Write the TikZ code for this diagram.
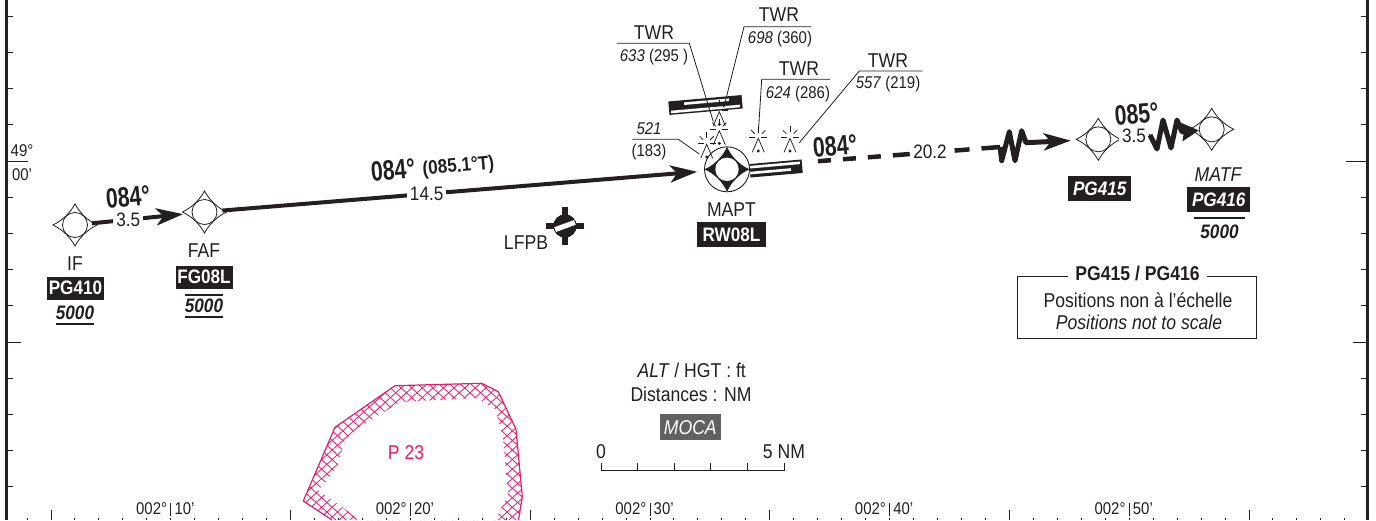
\documentclass[tikz,border=0pt]{standalone}
\usepackage{fontspec}
\setmainfont{Liberation Sans}[FakeStretch=0.88]
\newfontfamily\trackfont[FakeStretch=0.76]{Liberation Sans}
\usetikzlibrary{arrows.meta}
\definecolor{zonepink}{HTML}{E8196E}
\definecolor{inkblack}{HTML}{231F20}
\tikzset{
    txt/.style={inner sep=0pt,text=inkblack,font=\fontsize{20}{22}\selectfont},
    smalltxt/.style={inner sep=0pt,text=inkblack,font=\fontsize{17}{19}\selectfont},
    headingtxt/.style={inner sep=0pt,text=inkblack,rotate=5,font=\trackfont\bfseries\fontsize{28}{30}\selectfont},
    distlabel/.style={inner sep=0pt,text=inkblack,font=\fontsize{19.5}{21}\selectfont,fill=white,inner xsep=3pt,inner ysep=1pt},
    idbox/.style={inner sep=0pt,fill=inkblack,text=white,minimum width=57pt,minimum height=23pt,font=\bfseries\fontsize{19.5}{21}\selectfont},
    altnode/.style={inner sep=0pt,text=inkblack,minimum height=22pt,font=\bfseries\itshape\fontsize{19.5}{21}\selectfont},
    altrule/.style={draw=inkblack,line width=1.6pt},
    fixring/.style={shape=circle,draw=inkblack,inner sep=0pt,minimum size=25pt,line width=.8pt},
    fixedge/.style={draw=inkblack,line width=.8pt},
    track/.style={draw=inkblack,line width=4pt,line join=round},
    zigtrack/.style={track,line width=5pt},
    longtip/.style={-{Stealth[length=27pt,width=17pt,inset=7pt]}},
    shorttip/.style={-{Stealth[length=17pt,width=18pt,inset=2pt]}},
    leader/.style={draw=inkblack,line width=.8pt},
    obstline/.style={draw=inkblack,line width=.75pt},
    rwybar/.style={shape=rectangle,fill=inkblack,inner sep=0pt,rotate=5,minimum height=13.5pt},
    rwystripe/.style={shape=rectangle,fill=white,inner sep=0pt,rotate=5,minimum height=2.6pt},
    frameline/.style={draw=inkblack,line width=2.5pt},
    tickline/.style={draw=inkblack,line width=1pt},
    hatchline/.style={draw=zonepink,line width=.8pt},
    zoneline/.style={draw=zonepink,line width=1.2pt,line join=round},
}
\newcommand{\fixmark}[3]{
    \node[fixring] (#1) at (#2,#3) {};
    \draw[fixedge,shift={(#2,#3)}] (-22,0) .. controls (-12,-5) and (-5,-12) .. (0,-21)
        .. controls (5,-12) and (12,-5) .. (22,0)
        .. controls (12,5) and (5,12) .. (0,21)
        .. controls (-5,12) and (-12,5) .. (-22,0) -- cycle;
}
\newcommand{\obstmark}[3]{
    \coordinate (#1) at (#2,#3);
    \draw[obstline,shift={(#2,#3)}] (-6,14) -- (0,0) -- (6,14);
    \fill[inkblack,shift={(#2,#3)}] (0,12.7) circle (1.6);
    \foreach \ang/\ra/\rb in {0/3/9,-45/5/10,-90/5/11,-135/5/10,180/3/9} {
        \draw[obstline,shift={(#2,#3-1)}] (\ang:\ra) -- (\ang:\rb);
    }
}
\begin{document}
\begin{tikzpicture}[x=1pt,y=-1pt]
    \useasboundingbox (0,0) rectangle (1376,520);

    \draw[frameline] (6.5,0) -- (6.5,520);
    \draw[frameline] (1367.5,0) -- (1367.5,520);
    \foreach \row in {0,...,13} {
        \draw[tickline] (7,16.3+36.2*\row) -- (13,16.3+36.2*\row);
        \draw[tickline] (1361,16.3+36.2*\row) -- (1367,16.3+36.2*\row);
    }
    \draw[tickline] (7,161.5) -- (28,161.5);
    \draw[tickline] (7,342.5) -- (21,342.5);
    \draw[tickline] (1346,161.5) -- (1367,161.5);
    \draw[tickline] (1353,342.5) -- (1367,342.5);
    \foreach \col in {-1,...,54} {
        \draw[tickline] (51+23.96*\col,517.5) -- (51+23.96*\col,520);
    }
    \foreach \col in {51,290.6,530.2,769.8,1009.4,1249} {
        \draw[tickline] (\col,510) -- (\col,520);
    }
    \foreach \col/\mins in {170.8/10,410.4/20,650/30,889.6/40,1129.2/50} {
        \draw[tickline] (\col,503) -- (\col,516);
        \node[smalltxt,anchor=east] at (\col-3.5,509) {002°};
        \node[smalltxt,anchor=west] at (\col+3.5,509) {\mins’};
    }
    \node[smalltxt] (lat) at (22,151) {49°};
    \node[smalltxt] (latmin) at (22,175) {00’};

    \begin{scope}[even odd rule]
        \clip (303.3,501) -- (335,427.3) -- (395,385.7) -- (481.7,383.3) -- (498.3,391.7) -- (516,429.3) -- (522.3,496.7) -- (518.5,520) -- (332,520) -- cycle
            (318,490) -- (325,483) -- (337,467) -- (345,440) -- (355,430) -- (400,402) -- (477,398) -- (495,409) -- (503,437) -- (508,495) -- (495,520) -- (360,520) -- cycle;
        \foreach \off in {-25,...,50} {
            \draw[hatchline] (\off*10.6,520) -- ++(200,-180);
            \draw[hatchline] (\off*10.6,380) -- ++(200,180);
        }
    \end{scope}
    \draw[zoneline] (332,520) -- (303.3,501) -- (335,427.3) -- (395,385.7) -- (481.7,383.3) -- (498.3,391.7) -- (516,429.3) -- (522.3,496.7) -- (518.5,520);
    \node[txt,text=zonepink] (zone) at (406,453) {P 23};

    \fixmark{IF}{75}{225}
    \fixmark{FAF}{204.5}{212}
    \fixmark{PGa}{1098.3}{139.3}
    \fixmark{PGb}{1211.7}{129.3}

    \node[shape=circle,draw=inkblack,inner sep=0pt,minimum size=45pt,line width=.9pt] (MAPT) at (727,169.3) {};
    \fill[inkblack,shift={(727,169.3)}] (-22.5,0) .. controls (-13,-4) and (-4,-13) .. (0,-22.5)
        .. controls (4,-13) and (13,-4) .. (22.5,0)
        .. controls (13,4) and (4,13) .. (0,22.5)
        .. controls (-4,13) and (-13,4) .. (-22.5,0) -- cycle;
    \fill[white] (727,169.3) circle (11.7);

    \node[rwybar,minimum width=52.5pt] (rwyb) at (776,168.5) {};
    \node[rwystripe,minimum width=50pt] (rwybu) at (775,165) {};
    \node[rwystripe,minimum width=41pt] (rwybl) at (770.5,171.3) {};
    \node[rwybar,minimum width=73.5pt] (rwya) at (705.5,105) {};
    \node[rwystripe,minimum width=45pt] (rwyau) at (706.5,101.7) {};
    \node[rwystripe,minimum width=69pt] (rwyal) at (705.5,109) {};

    \path [track,longtip,shorten <=4pt,shorten >=8.5pt] (IF) edge node[distlabel,pos=.39] {3.5} (FAF);
    \path [track,longtip,shorten <=5pt,shorten >=7pt] (FAF) edge node[distlabel,pos=.43] {14.5} (MAPT);

    \coordinate (dashstart) at (818,161.2);
    \coordinate (zigstart) at (1000,147);
    \path [track,line width=4.5pt,dash pattern=on 13pt off 12pt on 13pt off 12pt on 13pt off 12pt on 17pt off 45pt on 15pt off 12pt on 30pt] (dashstart) edge (zigstart);
    \node[distlabel] (distc) at (930,152) {20.2};
    \draw[zigtrack,longtip,shorten >=14.6pt] (zigstart) -- ++(1.7,13.7) -- ++(7.6,-29) -- ++(5.7,29) -- ++(6.7,-30) -- ++(4.3,12) -- (PGa);
    \coordinate (zigend) at (1150,135);
    \path [track,line width=2.5pt,shorten <=20pt] (PGa) edge (zigend);
    \node[distlabel] (distb) at (1134,136) {3.5};
    \draw[zigtrack,shorttip] (zigend) -- ++(7,14) -- ++(6,-29) -- ++(8,28) -- ++(6,-28) -- ++(5,12) -- (PGb);

    \obstmark{obsta}{719.3}{111.7}
    \obstmark{obstb}{719.3}{130.7}
    \obstmark{obstc}{706.7}{144.3}
    \obstmark{obstd}{758.3}{138.3}
    \obstmark{obste}{790}{138.3}

    \node[txt] (twra) at (654,33) {TWR};
    \node[smalltxt] (elea) at (654,57) {\textit{633} (295 )};
    \coordinate (shelfa) at (616.7,43.3);
    \coordinate (kneea) at (689.3,43.3);
    \coordinate (enda) at (713.3,121.7);
    \draw[leader] (shelfa) -- (kneea) -- (enda);

    \node[txt] (twrb) at (779,15) {TWR};
    \node[smalltxt] (eleb) at (780,39) {\textit{698} (360)};
    \coordinate (shelfb) at (811,26.7);
    \coordinate (kneeb) at (744,26.7);
    \coordinate (endb) at (724,106.7);
    \draw[leader] (shelfb) -- (kneeb) -- (endb);

    \node[txt] (twrc) at (799,69) {TWR};
    \node[smalltxt] (elec) at (798,93.7) {\textit{624} (286)};
    \coordinate (shelfc) at (830,79.3);
    \coordinate (kneec) at (761.7,79.3);
    \coordinate (endc) at (758.3,133.3);
    \draw[leader] (shelfc) -- (kneec) -- (endc);

    \node[txt] (twrd) at (888,60.7) {TWR};
    \node[smalltxt] (eled) at (888,84) {\textit{557} (219)};
    \coordinate (shelfd) at (922.7,71);
    \coordinate (kneed) at (859.3,71);
    \coordinate (endd) at (799.3,142.7);
    \draw[leader] (shelfd) -- (kneed) -- (endd);

    \node[smalltxt] (elee) at (649,129) {\textit{521}};
    \node[smalltxt] (hgte) at (649,152) {(183)};
    \coordinate (shelfe) at (632.3,139.3);
    \coordinate (kneee) at (678.3,139.3);
    \coordinate (ende) at (699.3,154);
    \draw[leader] (shelfe) -- (kneee) -- (ende);

    \node[headingtxt] (hdga) at (128,197) {084°};
    \node[headingtxt] (hdgb) at (393,170) {084°};
    \node[txt,rotate=5,font=\bfseries\fontsize{19.5}{21}\selectfont] (hdgbtrue) at (458.5,167) {(085.1°T)};
    \node[headingtxt] (hdgc) at (835,145.7) {084°};
    \node[headingtxt] (hdgd) at (1136.7,114) {085°};

    \node[txt] (lblIF) at (75,264) {IF};
    \node[idbox] (idIF) at (75.5,288) {PG410};
    \node[altnode] (altIF) at (75,313) {5000};
    \draw[altrule] (altIF.south west) -- (altIF.south east);

    \node[txt] (lblFAF) at (204,251) {FAF};
    \node[idbox] (idFAF) at (204,277) {FG08L};
    \node[altnode] (altFAF) at (204,306) {5000};
    \draw[altrule] (altFAF.north west) -- (altFAF.north east);
    \draw[altrule] (altFAF.south west) -- (altFAF.south east);

    \node[txt] (lblMAPT) at (731.5,210) {MAPT};
    \node[idbox,minimum width=68.5pt,minimum height=25.5pt] (idMAPT) at (731.5,234.5) {RW08L};

    \node[idbox,minimum width=63pt,minimum height=25pt,font=\bfseries\itshape\fontsize{19.5}{21}\selectfont] (idPGa) at (1099.7,188.5) {PG415};
    \node[txt,font=\itshape\fontsize{20}{22}\selectfont] (lblPGb) at (1218,175) {MATF};
    \node[idbox,minimum width=63pt,minimum height=25.5pt,font=\bfseries\itshape\fontsize{19.5}{21}\selectfont] (idPGb) at (1218.7,199.5) {PG416};
    \node[altnode,minimum width=51pt,minimum height=27pt] (altPGb) at (1219.5,231.7) {5000};
    \draw[altrule] (altPGb.north west) -- (altPGb.north east);

    \node[shape=rectangle,draw=inkblack,line width=1pt,minimum width=239.4pt,minimum height=62.3pt,inner sep=0pt] (notebox) at (1137,307.2) {};
    \node[txt,fill=white,inner xsep=7pt,font=\bfseries\fontsize{20}{22}\selectfont] (notehead) at (1137.5,273) {PG415 / PG416};
    \node[txt] (notefr) at (1138,300) {Positions non à l’échelle};
    \node[txt,font=\itshape\fontsize{20}{22}\selectfont] (noteen) at (1139,322.7) {Positions not to scale};

    \node[txt] (lblLFPB) at (526,243) {LFPB};
    \node[shape=circle,fill=inkblack,inner sep=0pt,minimum size=23.4pt] (LFPB) at (565,226) {};
    \draw[inkblack,line width=5.5pt] (LFPB.center) ++(-19,0) -- ++(38,0);
    \draw[inkblack,line width=5.5pt] (LFPB.center) ++(0,-19) -- ++(0,38);
    \node[shape=rectangle,fill=white,inner sep=0pt,minimum width=21pt,minimum height=5pt,rotate=20] (LFPBbar) at (LFPB.center) {};

    \node[txt] (unitalt) at (691.7,370.7) {\textit{ALT} / HGT : ft};
    \node[txt] (unitdist) at (691,394.3) {Distances : NM};
    \node[idbox,fill=black!62,minimum width=60.7pt,minimum height=25.7pt,font=\itshape\fontsize{20}{22}\selectfont] (moca) at (690.3,427.2) {MOCA};

    \node[txt] (scalezero) at (601,451.7) {0};
    \node[txt] (scalefive) at (784,451.7) {5 NM};
    \draw[tickline] (601,463.3) -- (601,470.7) -- (784,470.7) -- (784,463.3);
    \foreach \mark in {637.6,674.2,710.8,747.4} {
        \draw[tickline] (\mark,463.3) -- (\mark,470.7);
    }
\end{tikzpicture}
\end{document}
